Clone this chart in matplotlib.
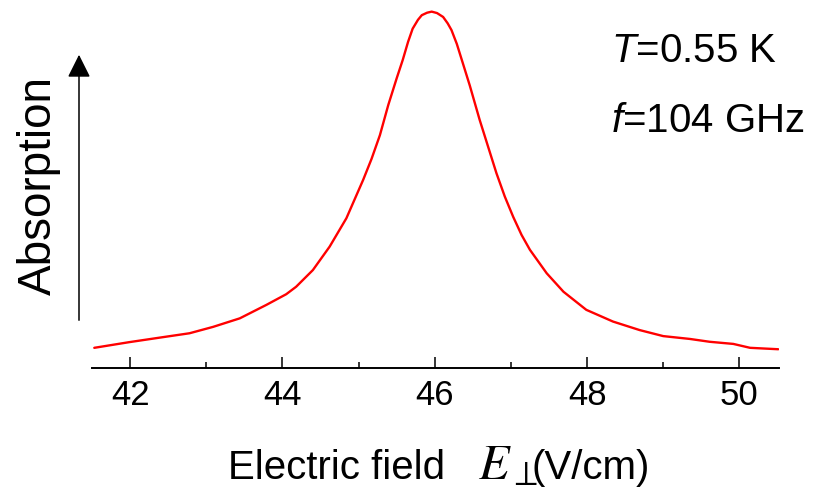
import matplotlib
matplotlib.use("Agg")
import matplotlib.pyplot as plt
from matplotlib.ticker import MultipleLocator

plt.rcParams['font.family'] = ['Liberation Sans', 'DejaVu Sans']
plt.rcParams['mathtext.fontset'] = 'custom'
plt.rcParams['mathtext.rm'] = 'Liberation Sans'
plt.rcParams['mathtext.it'] = 'Liberation Sans:italic'

# Data (electric field in V/cm, absorption in arbitrary units)
field = [41.53, 41.99, 42.43, 42.78, 43.09, 43.44, 43.79, 44.05, 44.18, 44.40,
         44.62, 44.84, 45.06, 45.17, 45.28, 45.39, 45.50, 45.58, 45.65,
         45.71, 45.78, 45.83, 45.90, 45.96, 46.03, 46.11, 46.17, 46.22, 46.29,
         46.37, 46.46, 46.59, 46.70, 46.81, 46.92, 47.03, 47.14, 47.25, 47.47,
         47.69, 47.99, 48.34, 48.69, 49.00, 49.35, 49.61, 49.92, 50.14, 50.51]
absorption = [0.056, 0.072, 0.086, 0.097, 0.115, 0.139, 0.177, 0.207, 0.228, 0.275,
              0.341, 0.421, 0.529, 0.588, 0.655, 0.740, 0.815, 0.867, 0.918,
              0.955, 0.980, 0.993, 1.000, 1.003, 0.999, 0.988, 0.970, 0.951, 0.912,
              0.857, 0.795, 0.698, 0.623, 0.548, 0.482, 0.425, 0.374, 0.332, 0.266,
              0.214, 0.163, 0.130, 0.106, 0.089, 0.081, 0.073, 0.067, 0.056, 0.052]
major_ticks = [42, 44, 46, 48, 50]

fig = plt.figure(figsize=(8.33, 4.94), dpi=100)
ax = fig.add_axes([92/833, (494-367.7)/494, (779-92)/833, 367.7/494])
ax.plot(field, absorption, color='#ff0000', lw=1.7, solid_joinstyle='round',
        solid_capstyle='round')
ax.set_xlim(41.5, 50.52)
ax.set_ylim(0, 367.7/355)

for s in ['top', 'right', 'left']:
    ax.spines[s].set_visible(False)
ax.spines['bottom'].set_linewidth(1.4)
ax.set_yticks([])
ax.set_xticks(major_ticks)
ax.xaxis.set_minor_locator(MultipleLocator(1))
ax.tick_params(axis='x', which='major', direction='in', length=8, width=1.1,
               labelsize=25, pad=8)
ax.tick_params(axis='x', which='minor', direction='in', length=4.3, width=1.1)

# Absorption arrow
fig.patches.append(matplotlib.patches.FancyArrowPatch(
    (79/833, 1-323/494), (79/833, 1-52/494), transform=fig.transFigure,
    arrowstyle='-|>,head_length=0.7,head_width=0.35', mutation_scale=20,
    color='black', lw=1.1))
fig.text(39/833, 1-185/494, 'Absorption', rotation=90, fontsize=33,
         ha='center', va='center')

fig.text(611/833, 1-61.7/494, r'$T$=0.55 K', fontsize=29, ha='left', va='baseline')
fig.text(611/833, 1-131.7/494, r'$f$=104 GHz', fontsize=29, ha='left', va='baseline')

fig.text(228/833, 1-479.3/494, 'Electric field', fontsize=29, ha='left', va='baseline')
fig.text(478/833, 1-479.3/494, r'$E_\perp$', fontsize=36, ha='left',
         va='baseline', math_fontfamily='stix')
fig.text(531/833, 1-479.3/494, '(V/cm)', fontsize=29, ha='left', va='baseline')

fig.savefig('out.png', dpi=100)
